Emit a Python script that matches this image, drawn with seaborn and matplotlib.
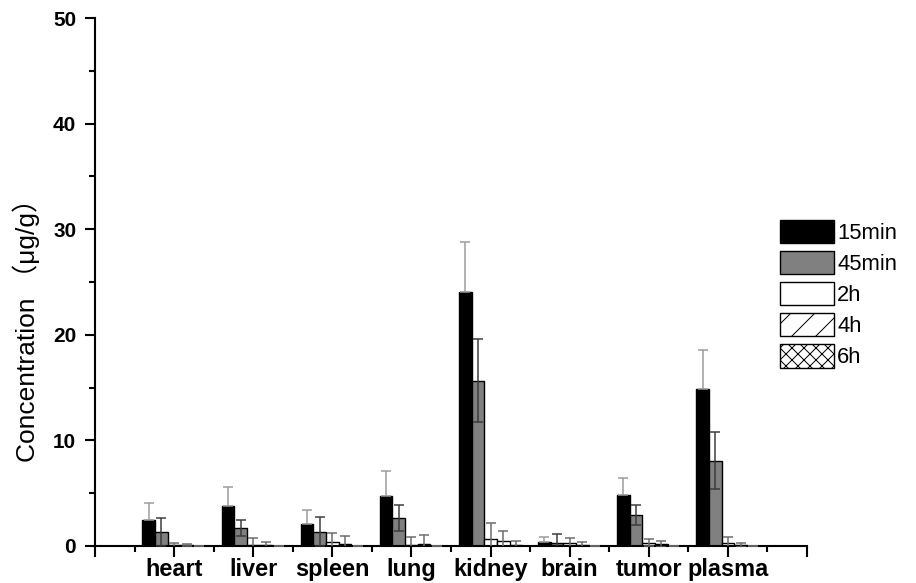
import matplotlib
matplotlib.use('Agg')
import matplotlib.pyplot as plt
import pandas as pd
import numpy as np
import seaborn as sns

# 数据
tissues = ['heart', 'liver', 'spleen', 'lung', 'kidney', 'brain', 'tumor', 'plasma']
times = ['15min', '45min', '2h', '4h', '6h']

conc_15min = [2.46, 3.82, 2.08, 4.73, 24.08, 0.40, 4.83, 14.87]
conc_45min = [1.33, 1.70, 1.36, 2.65, 15.65, 0.31, 2.94, 8.08]
conc_2h = [0.05, 0.10, 0.40, 0.05, 0.63, 0.25, 0.31, 0.25]
conc_4h = [0.10, 0.08, 0.17, 0.20, 0.47, 0.10, 0.19, 0.10]
conc_6h = [0.0, 0.0, 0.0, 0.0, 0.10, 0.0, 0.0, 0.0]

sd_15min = [1.64, 1.78, 1.32, 2.40, 4.72, 0.48, 1.57, 3.70]
sd_45min = [1.32, 0.80, 1.39, 1.20, 3.95, 0.79, 0.92, 2.68]
sd_2h = [0.25, 0.70, 0.86, 0.80, 1.52, 0.54, 0.32, 0.63]
sd_4h = [0.07, 0.27, 0.81, 0.84, 0.98, 0.28, 0.31, 0.15]
sd_6h = [0.0, 0.0, 0.0, 0.0, 0.40, 0.0, 0.0, 0.0]

concs = [conc_15min, conc_45min, conc_2h, conc_4h, conc_6h]
sds = [sd_15min, sd_45min, sd_2h, sd_4h, sd_6h]

df = pd.DataFrame({
    'tissue': tissues * len(times),
    'time': [t for t in times for _ in tissues],
    'conc': sum(concs, []),
})

# 样式（dpi=72，所以 1pt = 1px）
sns.set_style('ticks')
plt.rcParams['font.family'] = ['Liberation Sans', 'Noto Sans CJK SC']
plt.rcParams['hatch.linewidth'] = 1.0
for key in ['text.color', 'axes.labelcolor', 'xtick.color', 'ytick.color', 'axes.edgecolor']:
    plt.rcParams[key] = 'black'

bar_colors = ['black', '#808080', 'white', 'white', 'white']
hatches = ['', '', '', '/', 'xx']
err_colors = ['#9a9a9a', '#3a3a3a', '#6a6a6a', '#6a6a6a', '#6a6a6a']

fig = plt.figure(figsize=(916 / 72, 583 / 72), dpi=72)
ax = fig.add_axes([0.1037, 0.0635, 0.7773, 0.9055])

sns.barplot(data=df, x='tissue', y='conc', hue='time', order=tissues,
            hue_order=times, palette=bar_colors, saturation=1,
            edgecolor='black', linewidth=1.4, errorbar=None,
            legend=False, width=0.8, ax=ax)

bar_conts = list(ax.containers)

# 阴影和误差棒
for i, cont in enumerate(bar_conts):
    for patch in cont.patches:
        patch.set_hatch(hatches[i])
    xs = [p.get_x() + p.get_width() / 2 for p in cont.patches]
    hs = [p.get_height() for p in cont.patches]
    if i == 0:
        yerr = [np.zeros(len(sds[i])), sds[i]]
    else:
        yerr = sds[i]
    ax.errorbar(xs, hs, yerr=yerr, fmt='none', ecolor=err_colors[i],
                elinewidth=1.5, capsize=5, capthick=1.5, zorder=5)

# 坐标轴
ax.set_xlim(-1, 8)
ax.set_ylim(0, 50)
ax.set_xticks(range(-1, 9))
ax.set_xticklabels([''] + tissues + [''], fontsize=23.5, fontweight='bold')
ax.set_xticks(np.arange(-0.5, 8, 1), minor=True)
ax.set_yticks(range(0, 51, 10))
ax.set_yticklabels([str(v) for v in range(0, 51, 10)], fontsize=20.8, fontweight='bold')
ax.set_yticks(range(5, 50, 10), minor=True)
ax.tick_params(axis='both', which='major', direction='out', length=10.5, width=2.1)
ax.tick_params(axis='both', which='minor', direction='out', length=6.3, width=2.1)
ax.tick_params(axis='x', which='major', pad=1.4)
ax.tick_params(axis='y', which='major', pad=8.3)

ax.set_xlabel('')
ax.set_ylabel('Concentration \uff08\u03bcg/g\uff09', fontsize=26.4)
ax.yaxis.set_label_coords(-0.077, 0.42)

sns.despine(ax=ax)
for side in ['left', 'bottom']:
    ax.spines[side].set_linewidth(2.1)

# 图例
fig.legend(handles=bar_conts, labels=times, loc='upper left',
           bbox_to_anchor=(0.8515, 0.6226), bbox_transform=fig.transFigure,
           frameon=False, fontsize=22, borderpad=0, borderaxespad=0,
           handlelength=2.45, handleheight=1.25, handletextpad=0.15,
           labelspacing=0.32)

fig.savefig('out.png', dpi=72)
